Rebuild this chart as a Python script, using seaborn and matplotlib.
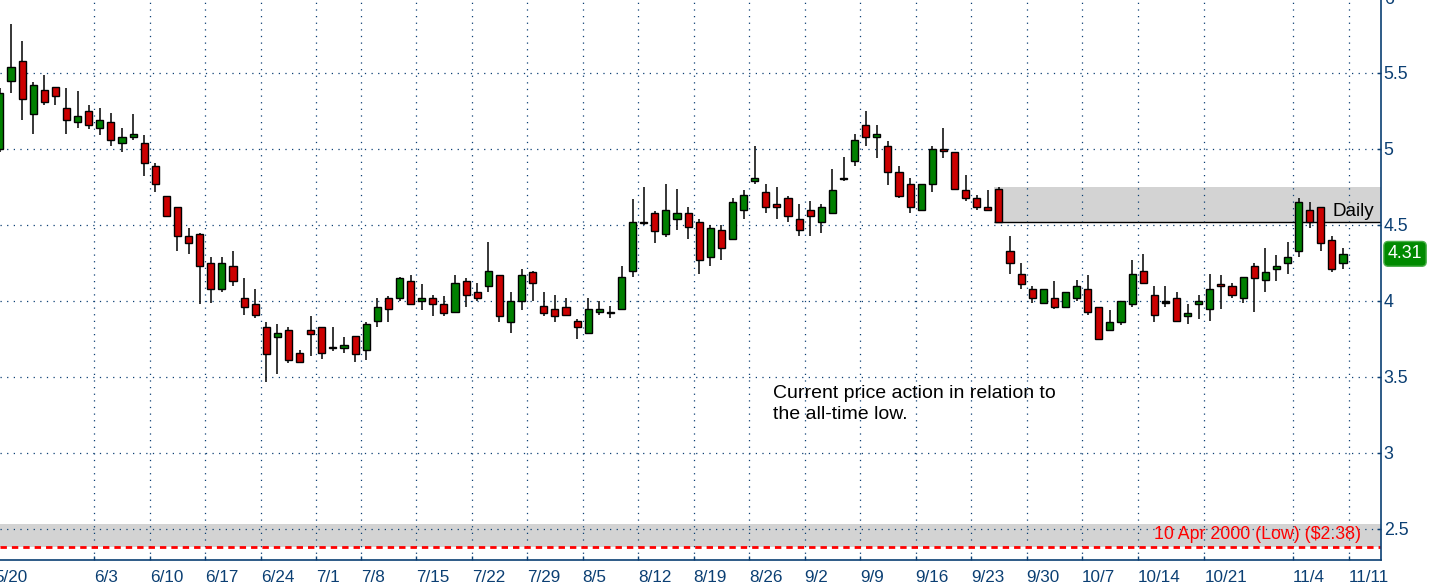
import numpy as np
import pandas as pd
import seaborn as sns
import matplotlib.pyplot as plt

# daily OHLC, one bar per trading day
opens = [5.00, 5.45, 5.58, 5.23, 5.39, 5.41, 5.27, 5.18, 5.25, 5.14,
         5.18, 5.04, 5.08, 5.04, 4.89, 4.69, 4.62, 4.43, 4.44, 4.25,
         4.08, 4.23, 4.02, 3.98, 3.83, 3.76, 3.81, 3.66, 3.81, 3.83,
         3.69, 3.69, 3.77, 3.68, 3.87, 4.02, 4.02, 4.13, 4.00, 4.02,
         3.98, 3.93, 4.13, 4.06, 4.10, 4.17, 3.86, 4.00, 4.19, 3.97,
         3.95, 3.96, 3.87, 3.79, 3.93, 3.92, 3.95, 4.20, 4.52, 4.58,
         4.44, 4.54, 4.58, 4.52, 4.29, 4.47, 4.41, 4.60, 4.79, 4.72,
         4.64, 4.68, 4.54, 4.60, 4.52, 4.58, 4.80, 4.92, 5.16, 5.08,
         5.02, 4.85, 4.77, 4.60, 4.77, 5.00, 4.98, 4.73, 4.68, 4.62,
         4.74, 4.33, 4.18, 4.08, 3.99, 4.02, 3.96, 4.02, 4.08, 3.96,
         3.81, 3.86, 3.98, 4.20, 4.04, 3.99, 4.02, 3.90, 3.98, 3.95,
         4.11, 4.10, 4.02, 4.23, 4.14, 4.21, 4.25, 4.33, 4.60, 4.62,
         4.40, 4.25]
highs = [5.40, 5.82, 5.71, 5.44, 5.49, 5.41, 5.40, 5.38, 5.29, 5.27,
         5.24, 5.14, 5.23, 5.09, 4.91, 4.69, 4.62, 4.48, 4.45, 4.29,
         4.29, 4.33, 4.15, 4.08, 3.86, 3.85, 3.83, 3.68, 3.90, 3.83,
         3.83, 3.76, 3.77, 3.86, 4.02, 4.03, 4.16, 4.17, 4.11, 4.04,
         4.03, 4.17, 4.15, 4.12, 4.39, 4.17, 4.06, 4.21, 4.20, 4.06,
         4.04, 4.02, 3.88, 4.02, 4.00, 3.97, 4.23, 4.67, 4.75, 4.59,
         4.77, 4.74, 4.62, 4.54, 4.50, 4.50, 4.68, 4.73, 5.02, 4.77,
         4.75, 4.69, 4.64, 4.66, 4.64, 4.87, 4.95, 5.10, 5.25, 5.16,
         5.05, 4.89, 4.81, 4.77, 5.02, 5.14, 4.98, 4.83, 4.70, 4.73,
         4.75, 4.43, 4.25, 4.10, 4.08, 4.13, 4.06, 4.14, 4.17, 3.96,
         3.94, 4.00, 4.27, 4.31, 4.10, 4.10, 4.06, 3.98, 4.04, 4.18,
         4.17, 4.12, 4.16, 4.25, 4.35, 4.30, 4.39, 4.68, 4.65, 4.62,
         4.43, 4.35]
lows = [4.98, 5.37, 5.19, 5.10, 5.29, 5.29, 5.10, 5.14, 5.13, 5.09,
        5.02, 4.98, 5.06, 4.82, 4.72, 4.56, 4.33, 4.31, 3.98, 3.99,
        4.06, 4.10, 3.91, 3.89, 3.47, 3.52, 3.59, 3.59, 3.64, 3.62,
        3.67, 3.66, 3.60, 3.61, 3.83, 3.86, 4.00, 3.98, 3.94, 3.90,
        3.90, 3.93, 3.96, 4.00, 4.06, 3.86, 3.79, 3.94, 4.00, 3.90,
        3.86, 3.90, 3.75, 3.79, 3.91, 3.89, 3.94, 4.16, 4.50, 4.38,
        4.42, 4.47, 4.41, 4.18, 4.23, 4.27, 4.41, 4.54, 4.77, 4.58,
        4.54, 4.52, 4.43, 4.43, 4.45, 4.58, 4.79, 4.89, 5.02, 4.94,
        4.76, 4.68, 4.58, 4.60, 4.72, 4.94, 4.74, 4.66, 4.60, 4.60,
        4.52, 4.18, 4.08, 3.99, 3.99, 3.95, 3.96, 4.00, 3.91, 3.75,
        3.81, 3.84, 3.96, 4.11, 3.86, 3.96, 3.87, 3.85, 3.88, 3.87,
        3.95, 4.02, 3.99, 3.93, 4.06, 4.13, 4.18, 4.29, 4.48, 4.33,
        4.19, 4.21]
closes = [5.37, 5.54, 5.33, 5.42, 5.31, 5.35, 5.19, 5.22, 5.16, 5.19,
          5.06, 5.08, 5.10, 4.91, 4.77, 4.56, 4.43, 4.38, 4.23, 4.08,
          4.25, 4.13, 3.96, 3.91, 3.65, 3.79, 3.61, 3.60, 3.78, 3.66,
          3.69, 3.71, 3.65, 3.85, 3.96, 3.95, 4.15, 3.98, 4.02, 3.98,
          3.92, 4.12, 4.04, 4.02, 4.20, 3.90, 4.00, 4.17, 4.12, 3.92,
          3.90, 3.91, 3.83, 3.95, 3.95, 3.92, 4.16, 4.52, 4.51, 4.46,
          4.60, 4.58, 4.49, 4.27, 4.48, 4.35, 4.65, 4.70, 4.81, 4.62,
          4.62, 4.56, 4.47, 4.56, 4.62, 4.73, 4.80, 5.06, 5.08, 5.10,
          4.85, 4.69, 4.62, 4.77, 5.00, 4.99, 4.74, 4.68, 4.62, 4.60,
          4.52, 4.25, 4.11, 4.02, 4.08, 3.96, 4.06, 4.10, 3.93, 3.75,
          3.86, 4.00, 4.18, 4.12, 3.91, 3.99, 3.87, 3.92, 4.00, 4.08,
          4.10, 4.04, 4.16, 4.15, 4.19, 4.23, 4.29, 4.65, 4.52, 4.38,
          4.21, 4.31]

# first bar of each labelled week
week_labels = ['5/20', '6/3', '6/10', '6/17', '6/24', '7/1', '7/8', '7/15',
               '7/22', '7/29', '8/5', '8/12', '8/19', '8/26', '9/2', '9/9',
               '9/16', '9/23', '9/30', '10/7', '10/14', '10/21', '11/4', '11/11']
week_first_bar = [0, 9, 14, 19, 24, 29, 33, 38, 43, 48, 53, 58, 63, 68, 73,
                  78, 83, 88, 93, 98, 103, 109, 117, 122]

price_ticks = [2.5, 3, 3.5, 4, 4.5, 5, 5.5, 6]
price_labels = ['2.5', '3', '3.5', '4', '4.5', '5', '5.5', '6']

low_price = 2.38
low_text = '10 Apr 2000 (Low) ($2.38)'
zone_low, zone_high = 4.52, 4.75
zone_first_bar = 90
last_price = 4.31

df = pd.DataFrame({'open': opens, 'high': highs, 'low': lows, 'close': closes})
df['bar'] = np.arange(len(df))
df['color'] = np.where(df.close > df.open, '#008000',
                       np.where(df.close < df.open, '#cc0000', 'black'))

# %% style
sns.set_theme(style='white')
plt.rcParams['font.family'] = ['Liberation Sans', 'DejaVu Sans']
navy = '#0b3f73'
grid_kw = dict(color=navy, lw=0.9, linestyle=(0, (1, 4.3)), zorder=1)

W, H = 1441, 586
fig = plt.figure(figsize=(W / 100, H / 100), dpi=100)
ax = fig.add_axes([0, 26 / H, 1381 / W, 563 / H])
x_left, x_right = 0.01, 124.42
ax.set_xlim(x_left, x_right)
ax.set_ylim(2.296, 6.0)

# shaded zones
ax.axhspan(low_price, 2.535, color='#d3d3d3', lw=0, zorder=0)
ax.fill_between([zone_first_bar - 0.4, x_right], zone_low, zone_high,
                color='#d3d3d3', lw=0, zorder=0)
ax.hlines(zone_low, zone_first_bar - 0.4, x_right, color='black', lw=1, zorder=2)

# dotted grid
for p in price_ticks:
    ax.axhline(p, **grid_kw)
for b in week_first_bar:
    ax.axvline(b - 0.5, **grid_kw)

ax.axhline(low_price, color='#ff0000', lw=2, dashes=(2.3, 1.8), zorder=2)

# candles
ax.vlines(df.bar, df.low, df.high, color='black', lw=1.1, zorder=3)
body = (df.close - df.open).abs().clip(lower=0.008)
ax.bar(df.bar, body, bottom=df[['open', 'close']].min(axis=1), width=0.64,
       color=df.color, edgecolor='black', linewidth=1, zorder=4)

# axes look
sns.despine(ax=ax, left=True, right=False)
for s in ['right', 'bottom']:
    ax.spines[s].set_color(navy)
    ax.spines[s].set_linewidth(1.2)
ax.yaxis.tick_right()
ax.set_yticks(price_ticks)
ax.set_yticklabels(price_labels)
ax.tick_params(axis='y', direction='in', length=3, width=1, color=navy,
               labelcolor=navy, labelsize=12.8, pad=2, right=True, left=False)
ax.set_xticks([b - 0.5 for b in week_first_bar if b - 0.5 > x_left])
ax.set_xticklabels([])
ax.tick_params(axis='x', direction='in', length=3, width=1, color=navy, bottom=True)

for b, lab in zip(week_first_bar, week_labels):
    ax.annotate(lab, xy=(b - 0.5, 0), xycoords=('data', 'axes fraction'),
                xytext=(0, -12.3), textcoords='offset points', ha='left',
                va='center', color=navy, fontsize=12.3, annotation_clip=False)

# texts
ax.text(122.6, 2.466, low_text, color='#ff0000', fontsize=12.8,
        ha='right', va='center', zorder=5)
ax.text(123.8, 4.592, 'Daily', color='black', fontsize=13.5,
        ha='right', va='center', zorder=5)
ax.text(69.65, 3.32, 'Current price action in relation to\nthe all-time low.',
        color='black', fontsize=14, ha='left', va='center', linespacing=1.32)
ax.annotate(f'{last_price:.2f}', xy=(1.0174, last_price),
            xycoords=('axes fraction', 'data'), ha='center', va='center',
            color='white', fontsize=12.8, annotation_clip=False,
            bbox=dict(boxstyle='round,pad=0.22,rounding_size=0.25',
                      fc='#008a00', ec='#4caf4c', lw=1))

fig.savefig('out.png', dpi=100)
